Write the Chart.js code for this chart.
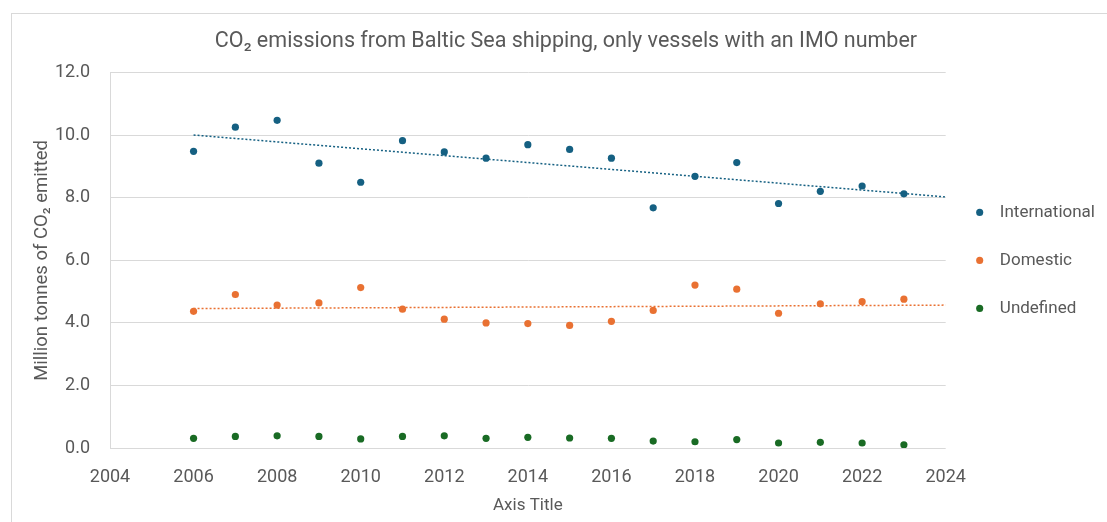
<!DOCTYPE html>
<html>
<head>
<meta charset="utf-8">
<script src="https://cdn.jsdelivr.net/npm/chart.js@4"></script>
<style>
  body { margin: 0; overflow: hidden; background: #fff; }
  .frame { position: absolute; left: 11px; top: 13px; width: 1200px; height: 600px; border: 1px solid #d9d9d9; }
  canvas { position: absolute; left: 0; top: 0; }
</style>
</head>
<body>
<div class="frame"></div>
<canvas id="myChart" width="1107" height="522"></canvas>
<script>
const years = [2006, 2007, 2008, 2009, 2010, 2011, 2012, 2013, 2014, 2015, 2016, 2017, 2018, 2019, 2020, 2021, 2022, 2023]
const international = [9.49, 10.26, 10.48, 9.11, 8.50, 9.83, 9.47, 9.27, 9.70, 9.55, 9.27, 7.68, 8.69, 9.13, 7.82, 8.21, 8.38, 8.13]
const domestic = [4.37, 4.91, 4.57, 4.64, 5.13, 4.44, 4.12, 4.00, 3.98, 3.92, 4.05, 4.40, 5.21, 5.08, 4.31, 4.61, 4.68, 4.76]
const undefinedVessels = [0.31, 0.37, 0.39, 0.37, 0.29, 0.37, 0.39, 0.31, 0.34, 0.32, 0.31, 0.22, 0.20, 0.27, 0.16, 0.18, 0.16, 0.10]

// trendline end points
const trendYears = [2006, 2024]
const internationalTrend = [10.01, 8.03]
const domesticTrend = [4.46, 4.57]

const xTicks = [2004, 2006, 2008, 2010, 2012, 2014, 2016, 2018, 2020, 2022, 2024]

const BLUE = '#156082'
const ORANGE = '#E97132'
const GREEN = '#196B24'
const TEXT = '#595959'
const GRID = '#d9d9d9'
const FONT = 'Roboto'

const pts = (xs, ys) => xs.map((x, i) => ({ x: x, y: ys[i] }))

const scatter = (label, values, color) => ({
    type: 'scatter',
    label: label,
    data: pts(years, values),
    backgroundColor: color,
    borderColor: color,
    borderWidth: 0,
    pointRadius: 3.6
})

const trend = (values, color) => ({
    type: 'line',
    label: 'trend',
    data: pts(trendYears, values),
    borderColor: color,
    borderWidth: 1.5,
    borderDash: [2, 2],
    pointRadius: 0,
    fill: false
})

var ctx = document.getElementById('myChart').getContext('2d')
new Chart(ctx, {
    data: {
        datasets: [
            scatter('International', international, BLUE),
            scatter('Domestic', domestic, ORANGE),
            scatter('Undefined', undefinedVessels, GREEN),
            trend(internationalTrend, BLUE),
            trend(domesticTrend, ORANGE)
        ]
    },
    options: {
        responsive: false,
        animation: false,
        layout: { padding: { left: 27, right: 2, top: 0, bottom: 0 } },
        plugins: {
            tooltip: { enabled: false },
            title: {
                display: true,
                text: 'CO\u2082 emissions from Baltic Sea shipping, only vessels with an IMO number',
                color: TEXT,
                font: { family: FONT, size: 21.5, weight: 'normal' },
                padding: { top: 29, bottom: 18 }
            },
            legend: {
                position: 'right',
                fullSize: false,
                labels: {
                    filter: item => item.text !== 'trend',
                    generateLabels(chart) {
                        const items = Chart.defaults.plugins.legend.labels.generateLabels(chart)
                        items.forEach(it => { if (it.text !== 'trend') it.text = '\u2002' + it.text })
                        return items
                    },
                    usePointStyle: true,
                    pointStyle: 'circle',
                    boxWidth: 6,
                    boxHeight: 5,
                    padding: 31,
                    color: TEXT,
                    font: { family: FONT, size: 17 }
                }
            }
        },
        scales: {
            x: {
                type: 'linear',
                min: 2004,
                max: 2024,
                afterBuildTicks(scale) {
                    scale.ticks = xTicks.map(v => ({ value: v }))
                },
                afterFit(scale) { scale.height = 74 },
                grid: { display: false },
                border: { display: false },
                ticks: {
                    padding: 11,
                    color: TEXT,
                    font: { family: FONT, size: 18 },
                    maxRotation: 0,
                    callback: v => String(v)
                },
                title: {
                    display: true,
                    text: 'Axis Title',
                    color: TEXT,
                    font: { family: FONT, size: 17 },
                    padding: { top: 4, bottom: 6 }
                }
            },
            y: {
                min: 0,
                max: 12,
                afterFit(scale) { scale.width = 83 },
                grid: { color: GRID, lineWidth: 1, drawTicks: false },
                border: { display: true, color: GRID },
                ticks: {
                    stepSize: 2,
                    padding: 20,
                    color: TEXT,
                    font: { family: FONT, size: 18 },
                    callback: v => v.toFixed(1)
                },
                title: {
                    display: true,
                    text: 'Million tonnes of CO\u2082 emitted',
                    color: TEXT,
                    font: { family: FONT, size: 18.5 },
                    padding: { top: 4, bottom: 0 }
                }
            }
        }
    }
})
</script>
</body>
</html>
